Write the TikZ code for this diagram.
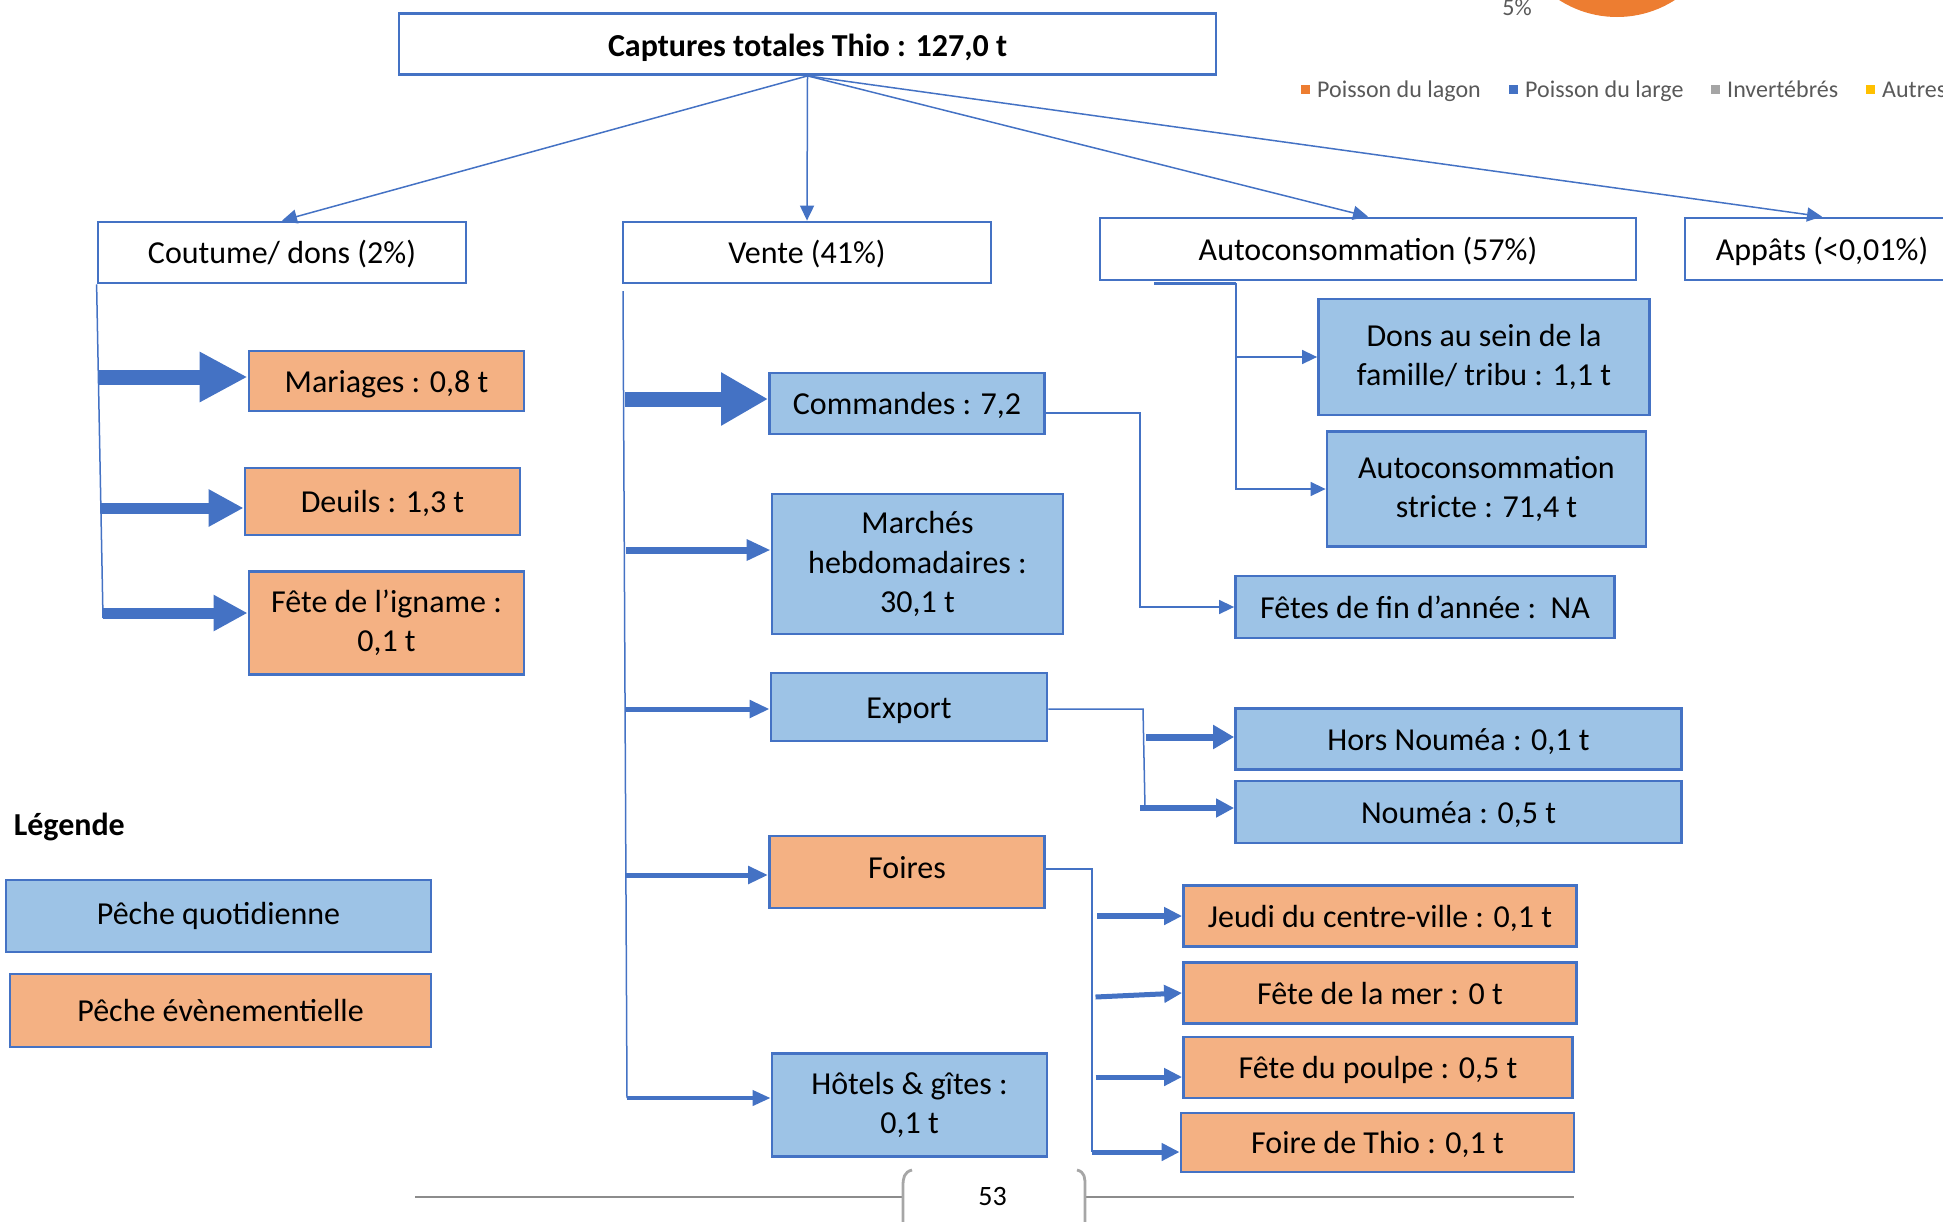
\documentclass[tikz,border=0pt]{standalone}
\usepackage{fontspec}
\setmainfont{Carlito}
\usetikzlibrary{arrows.meta}
\definecolor{ablue}{HTML}{4472C4}
\definecolor{lblue}{HTML}{9DC3E6}
\definecolor{lorange}{HTML}{F4B183}
\definecolor{pieorange}{HTML}{ED7D31}
\definecolor{piegrey}{HTML}{A5A5A5}
\definecolor{piegold}{HTML}{FFC000}
\definecolor{legtext}{HTML}{595959}
\begin{document}
\begin{tikzpicture}[x=1pt, y=-1pt,
    every node/.style={font=\fontsize{32}{39.5}\selectfont, inner sep=0pt, align=center},
    oneline/.style={text height=30pt, text depth=8pt},
    topbox/.style={oneline, draw=ablue, line width=2.8pt, fill=white},
    daily/.style={draw=ablue, line width=2.8pt, fill=lblue},
    event/.style={draw=ablue, line width=2.8pt, fill=lorange},
    wire/.style={draw=ablue, line width=1.5pt},
    arr/.style={wire, -{Triangle[length=15pt, width=14pt]}},
    shaft/.style n args={3}{draw=ablue, line width=#1, -{Triangle[length=#2, width=#3]}},
    footer/.style={draw=gray!90, line width=2.8pt},
    pielabel/.style={font=\fontsize{24}{29}\selectfont, text=legtext, anchor=west,
      text height=22pt, text depth=5.5pt}]
    \useasboundingbox (0,0) rectangle (1943,1221);

    % Pie chart remnant and its legend
    \fill[pieorange] (1617,-90) circle[radius=107];
    \node[pielabel, anchor=center] (pct) at (1517,7) {5\%};
    \fill[pieorange] (1300.5,84.5) rectangle ++(9,9);
    \node[pielabel] (lag) at (1317,89) {Poisson du lagon};
    \fill[ablue] (1508.5,84.5) rectangle ++(9,9);
    \node[pielabel] (lar) at (1525,89) {Poisson du large};
    \fill[piegrey] (1710.5,84.5) rectangle ++(9,9);
    \node[pielabel] (inv) at (1727,89) {Invertébrés};
    \fill[piegold] (1865.5,84.5) rectangle ++(9,9);
    \node[pielabel] (aut) at (1882,89) {Autres};

    % Total catch and its four uses
    \node[topbox, minimum width=817pt, minimum height=61pt, text height=33pt,
      font=\fontsize{32}{39.5}\selectfont\bfseries]
      (tot) at (807.5,44) {Captures totales Thio : 127,0 t};
    \node[topbox, minimum width=368pt, minimum height=61pt] (cout) at (282,252.5) {Coutume/ dons (2\%)};
    \node[topbox, minimum width=368pt, minimum height=61pt] (vente) at (807,252.5) {Vente (41\%)};
    \node[topbox, minimum width=536pt, minimum height=62pt] (auto) at (1368,249) {Autoconsommation (57\%)};
    \node[topbox, minimum width=274pt, minimum height=62pt] (app) at (1822,249) {Appâts (<0,01\%)};
    \draw[arr] (tot.south) -- (cout.north);
    \draw[arr] (tot.south) -- (vente.north);
    \draw[arr] (tot.south) -- (auto.north);
    \draw[arr] (tot.south) -- (app.north);

    % Coutume / dons
    \node[event, oneline, minimum width=275pt, minimum height=60pt] (mar) at (386.5,381) {Mariages : 0,8 t};
    \node[event, oneline, minimum width=275pt, minimum height=67pt] (deu) at (382.5,501.5) {Deuils : 1,3 t};
    \node[event, minimum width=275pt, minimum height=103pt] (ign) at (386.5,623) {Fête de l’igname :\\0,1 t};
    \coordinate (cbot) at (103,618);
    \draw[wire] (cout.south west) -- (cbot);
    \coordinate (c1) at (97.5,377);
    \coordinate (c2) at (101,508);
    \coordinate (c3) at (103,613);
    \draw[shaft={15pt}{48pt}{47pt}] (c1) -- (c1 -| mar.west);
    \draw[shaft={11pt}{35pt}{35pt}] (c2) -- (c2 -| deu.west);
    \draw[shaft={11pt}{34pt}{34pt}] (c3) -- (c3 -| ign.west);

    % Vente
    \node[daily, oneline, minimum width=275pt, minimum height=61pt] (cmd) at (907,403.5) {Commandes : 7,2};
    \node[daily, minimum width=291pt, minimum height=140pt] (mkt) at (917.5,564) {Marchés\\hebdomadaires :\\30,1 t};
    \node[daily, oneline, minimum width=276pt, minimum height=68pt] (exp) at (909,707) {Export};
    \node[event, minimum width=275pt, minimum height=72pt, text height=22pt, text depth=9pt] (foi) at (907,872) {Foires};
    \node[daily, minimum width=275pt, minimum height=103pt] (hot) at (909.5,1105) {Hôtels \& gîtes :\\0,1 t};
    \coordinate (vtop) at (623,291);
    \coordinate (vbot) at (627,1098);
    \draw[wire] (vtop) -- (vbot);
    \coordinate (v1) at (625,399);
    \coordinate (v2) at (626,550);
    \coordinate (v3) at (626,709);
    \coordinate (v4) at (626,875);
    \draw[shaft={15pt}{47pt}{50pt}] (v1) -- (v1 -| cmd.west);
    \draw[shaft={7pt}{24pt}{20pt}] (v2) -- (v2 -| mkt.west);
    \draw[shaft={5pt}{20pt}{17pt}] (v3) -- (v3 -| exp.west);
    \draw[shaft={5pt}{20pt}{17pt}] (v4) -- (v4 -| foi.west);
    \draw[shaft={4pt}{18pt}{15pt}] (vbot) -- (vbot -| hot.west);

    % Commandes -> fetes de fin d'annee
    \node[daily, oneline, minimum width=379pt, minimum height=62pt] (ffa) at (1425,607) {Fêtes de fin d’année :\ \ NA};
    \coordinate (kb) at (1140,413);
    \draw[arr] (kb -| cmd.east) -- (kb) |- (ffa.west);

    % Autoconsommation
    \node[daily, minimum width=331pt, minimum height=116pt] (don) at (1484,357) {Dons au sein de la\\famille/ tribu : 1,1 t};
    \node[daily, minimum width=319pt, minimum height=115pt] (str) at (1486.5,489) {Autoconsommation\\stricte : 71,4 t};
    \coordinate (ab) at (1154,283);
    \coordinate (at) at (1236,283);
    \draw[ablue, line width=3pt] (ab) -- (at);
    \draw[arr] (at) |- (don.west);
    \draw[arr] (at) |- (str.west);

    % Export
    \node[daily, oneline, minimum width=446pt, minimum height=61pt] (hn) at (1458.5,739) {Hors Nouméa : 0,1 t};
    \node[daily, oneline, minimum width=446pt, minimum height=62pt] (nou) at (1458.5,812) {Nouméa : 0,5 t};
    \coordinate (eb) at (1143,709);
    \coordinate (ee) at (1145,808);
    \draw[wire] (eb -| exp.east) -- (eb) -- (ee);
    \coordinate (e1) at (1146,737);
    \coordinate (e2) at (1140,808);
    \draw[shaft={7pt}{21pt}{23pt}] (e1) -- (e1 -| hn.west);
    \draw[shaft={6pt}{18pt}{18pt}] (e2) -- (e2 -| nou.west);

    % Foires
    \node[event, oneline, minimum width=393pt, minimum height=61pt] (jeu) at (1380,916) {Jeudi du centre-ville : 0,1 t};
    \node[event, oneline, minimum width=393pt, minimum height=61pt] (mer) at (1380,993) {Fête de la mer : 0 t};
    \node[event, oneline, minimum width=389pt, minimum height=61pt] (pou) at (1378,1067.5) {Fête du poulpe : 0,5 t};
    \node[event, oneline, minimum width=393pt, minimum height=59pt] (fth) at (1377.5,1142.5) {Foire de Thio : 0,1 t};
    \coordinate (fb) at (1092,869);
    \coordinate (fe) at (1092,1152);
    \draw[wire] (fb -| foi.east) -- (fb) -- (fe);
    \coordinate (f1) at (1097,916);
    \coordinate (f2) at (1095.5,997);
    \coordinate (f3) at (1095.5,1077);
    \draw[shaft={6pt}{18pt}{17pt}] (f1) -- (f1 -| jeu.west);
    \draw[shaft={5pt}{18pt}{17pt}] (f2) -- (mer.west);
    \draw[shaft={5pt}{18pt}{17pt}] (f3) -- (f3 -| pou.west);
    \draw[shaft={5pt}{18pt}{17pt}] (fe) -- (fe -| fth.west);

    % Legend
    \node[oneline, font=\fontsize{32}{39.5}\selectfont\bfseries, anchor=west] (leg) at (13.6,824) {Légende};
    \node[daily, minimum width=425pt, minimum height=72pt] (lq) at (218.5,916) {Pêche quotidienne};
    \node[event, oneline, minimum width=421pt, minimum height=73pt] (le) at (220.5,1010.5) {Pêche évènementielle};

    % Page footer
    \node[font=\fontsize{28}{34}\selectfont] (pg) at (992.6,1196) {53};
    \draw[footer] (415,1197) -- (903,1197);
    \draw[footer] (1084,1197) -- (1574,1197);
    \draw[footer, draw=gray!70] (912,1170) .. controls (904,1172) and (903,1178) .. (903,1186) -- (903,1225);
    \draw[footer, draw=gray!70] (1077,1170) .. controls (1085,1172) and (1085,1178) .. (1085,1186) -- (1085,1225);
  \end{tikzpicture}
\end{document}
